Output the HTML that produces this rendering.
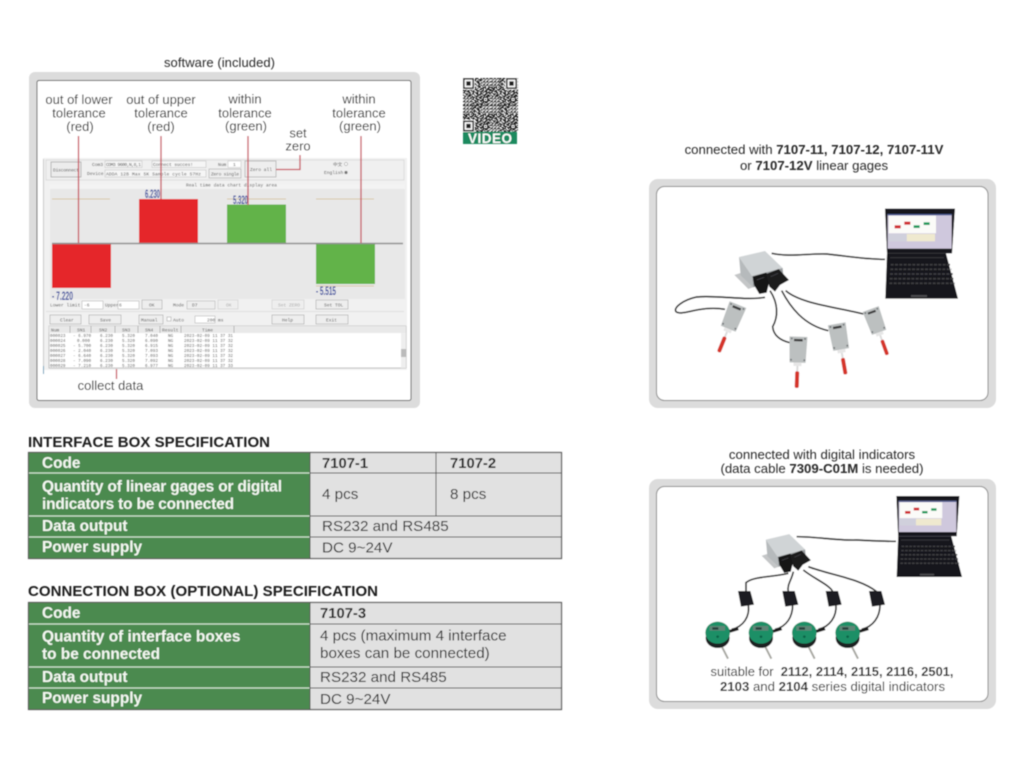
<!DOCTYPE html>
<html><head><meta charset="utf-8"><title>Interface box specification</title>
<style>
html,body{margin:0;padding:0;background:#fff;width:1024px;height:768px;overflow:hidden}
svg{display:block}
text{font-family:"Liberation Sans",sans-serif;fill:#2a2a2a}
.m{text-anchor:middle;font-size:13px}
.h{font-weight:700;font-size:15px;fill:#1d1d1d}
.w{font-weight:700;font-size:15.4px;fill:#f4f8f2}
.t{font-size:15.2px;fill:#2b2b2b}
.tb{font-size:14.8px;font-weight:700;fill:#222}
.u{font-family:"Liberation Mono",monospace;font-size:4.6px;fill:#555}
.r{font-family:"Liberation Mono",monospace;font-size:4.3px;fill:#555}
.v{font-weight:700;font-size:12px;fill:#3d4fa0}
.c{font-size:13.2px;text-anchor:middle;fill:#2a2a2a}
.b{font-weight:700}
</style></head><body>
<svg width="1024" height="768" viewBox="0 0 1024 768" xmlns="http://www.w3.org/2000/svg">
<defs>
<filter id="bl" x="-2%" y="-2%" width="104%" height="104%"><feGaussianBlur stdDeviation="0.4"/></filter>
<pattern id="qp" width="3" height="3" patternUnits="userSpaceOnUse"><rect width="2" height="1" fill="#1c1c1c"/><rect x="1" y="2" width="1" height="1" fill="#1c1c1c"/><rect x="2" y="1" width="1" height="1" fill="#1c1c1c"/></pattern>
<g id="qr">
<path fill="none" stroke="#1c1c1c" stroke-width="1" d="M8 .5h2M11 .5h3M16 .5h1M8 1.500h1M10 1.500h2M14 1.500h3M9 2.500h3M13 2.500h1M15 2.500h2M8 3.500h2M12 3.500h3M8 4.500h1M10 4.500h1M13 4.500h2M16 4.500h1M9 5.500h3M14 5.500h2M8 6.500h1M10 6.500h1M12 6.500h1M14 6.500h1M16 6.500h1M8 7.500h2M13 7.500h3
M0 8.500h2M3 8.500h3M7 8.500h1M9 8.500h3M14 8.500h2M18 8.500h3M23 8.500h2M1 9.500h3M5 9.500h1M8 9.500h2M11 9.500h1M13 9.500h1M16 9.500h3M20 9.500h1M22 9.500h2M0 10.500h1M2 10.500h2M6 10.500h3M10 10.500h3M15 10.500h2M18 10.500h1M21 10.500h4M0 11.500h3M4 11.500h2M7 11.500h1M9 11.500h1M12 11.500h3M17 11.500h2M20 11.500h2M24 11.500h1M1 12.500h1M3 12.500h3M8 12.500h3M13 12.500h1M15 12.500h3M19 12.500h3M23 12.500h1M0 13.500h2M5 13.500h2M9 13.500h1M11 13.500h3M16 13.500h1M18 13.500h1M21 13.500h4M2 14.500h3M6 14.500h1M8 14.500h2M12 14.500h2M15 14.500h3M20 14.500h2M24 14.500h1M0 15.500h1M3 15.500h1M5 15.500h3M10 15.500h1M13 15.500h3M18 15.500h3M22 15.500h2M1 16.500h2M4 16.500h3M8 16.500h1M11 16.500h3M16 16.500h2M19 16.500h1M21 16.500h4
M8 17.500h3M12 17.500h1M14 17.500h3M18 17.500h5M9 18.500h1M11 18.500h2M15 18.500h2M18 18.500h1M22 18.500h1M24 18.500h1M8 19.500h2M12 19.500h3M17 19.500h2M20 19.500h1M22 19.500h2M10 20.500h2M13 20.500h1M15 20.500h3M18 20.500h1M22 20.500h3M8 21.500h1M11 21.500h3M16 21.500h1M18 21.500h5M9 22.500h3M14 22.500h1M17 22.500h2M20 22.500h2M24 22.500h1M8 23.500h2M12 23.500h2M15 23.500h3M19 23.500h1M22 23.500h2M10 24.500h1M12 24.500h3M16 24.500h2M20 24.500h3"/>
<rect width="8" height="8" fill="url(#qp)"/><rect x="17" width="8" height="8" fill="url(#qp)"/><rect y="17" width="8" height="8" fill="url(#qp)"/>
</g>
<g id="finder"><rect x="-.5" y="-.5" width="12" height="12" fill="#fff"/><rect x=".8" y=".8" width="9.400" height="9.400" fill="none" stroke="#1c1c1c" stroke-width="1.600"/><rect x="3.300" y="3.300" width="4.400" height="4.400" fill="#1c1c1c"/></g>
<g id="laptop">
<path d="M735 116H945L936 250H741Z" fill="#15151a"/>
<rect x="743" y="132" width="192" height="104" fill="#cfc8dd"/>
<rect x="743" y="132" width="192" height="4" fill="#4c5a90"/>
<rect x="746" y="137" width="142" height="53" fill="#fbfbf8"/>
<rect x="800" y="192" width="85" height="22" fill="#efe9cf"/>
<rect x="746" y="192" width="54" height="22" fill="#d0d0dc"/>
<rect x="764" y="166" width="18" height="9" fill="#cf2b2f"/><rect x="793" y="155" width="18" height="9" fill="#cf2b2f"/>
<rect x="821" y="166" width="18" height="8" fill="#1d9a5b"/><rect x="851" y="157" width="18" height="8" fill="#1d9a5b"/>
<path d="M741 250H918L954 386H736Z" fill="#17171a"/>
<path d="M750 263H912" stroke="#38383c" stroke-width="3"/>
<g fill="none" stroke="#3c3c41" stroke-width="5" stroke-dasharray="9 4">
<path d="M752 284H930M751 298H934M750 312H938M749 326H941M748 340H944"/>
</g>
<rect x="813" y="375" width="48" height="6" fill="#4a4a4e"/>
</g>
<g id="box">
<path d="M283 315L301 309L345 350L325 357Z" fill="#c4c6c7"/>
<path d="M297 261L375 243L428 294L336 318Z" fill="#d0d4d6"/>
<path d="M297 261L336 318L340 352L302 316Z" fill="#b6babc"/>
<path d="M336 318L428 294L430 315L340 352Z" fill="#9a9ea0"/>
<path d="M338 320L378 308L392 320L380 368L358 372L342 345Z" fill="#141416"/>
<path d="M378 312L416 297L447 330L420 345L405 365L388 350Z" fill="#1a1a1d"/>
<path d="M350 330L372 322M392 320L414 310" stroke="#3c3c40" stroke-width="3"/>
</g>
<g id="sens">
<path d="M-27 -40H27L24 38H-24Z" fill="#bcc0c0"/>
<rect x="-13" y="-33" width="26" height="7" fill="#3c3c3e"/>
<rect x="-12" y="38" width="24" height="10" fill="#e6e6e6"/>
<rect x="-3" y="48" width="6" height="18" fill="#dcdcdc"/>
<rect x="-6" y="64" width="12" height="50" rx="5" fill="#d5352c"/>
<g fill="#75797b"><circle cx="-20" cy="-34" r="3"/><circle cx="20" cy="-34" r="3"/><circle cx="-20" cy="30" r="3"/><circle cx="20" cy="30" r="3"/></g>
</g>
<g id="ind">
<path d="M9 35L31 78" stroke="#a8a8a2" stroke-width="6"/>
<ellipse cx="0" cy="16" rx="36" ry="30" fill="#1a2421"/>
<ellipse cx="0" cy="0" rx="37" ry="33" fill="#1d8f66"/>
<rect x="-24" y="-20" width="46" height="14" fill="#5f8677"/>
<rect x="-16" y="-16" width="18" height="7" fill="#26403a"/>
<circle cx="0" cy="12" r="4" fill="#0f6347"/>
<path d="M36 -4L62 -12" stroke="#1c1c1c" stroke-width="9"/>
</g>
<g id="dongle"><path d="M-23 -22H14L25 19L-14 25Z" fill="#1d1d20"/></g>
</defs>
<g filter="url(#bl)">
<text class="m" x="219.500" y="67" textLength="111">software (included)</text>

<!-- software panel -->
<rect x="29" y="72" width="391" height="336" rx="6" fill="#dcdcdc"/>
<rect x="37" y="80.500" width="374" height="320" rx="2" fill="#fff" stroke="#5c5c5c"/>
<rect x="43" y="158" width="364" height="212" fill="#f1f1f1"/>
<rect x="43" y="159" width="1" height="211" fill="#c8c8c8"/>
<rect x="46" y="160" width="358" height="20" fill="#f0f0f0" stroke="#d4d4d4" stroke-width=".7"/>
<rect x="51" y="162" width="30" height="15" fill="#ececec" stroke="#a8a8a8" stroke-width=".8"/>
<text class="u" x="53" y="171.500" textLength="26">Disconnect</text>
<text class="u" x="92" y="166">Com3</text><text class="u" x="87" y="175">Device</text>
<rect x="105" y="161" width="37" height="6.500" fill="#f6f6f6" stroke="#bbb" stroke-width=".5"/>
<rect x="152" y="161" width="54" height="6.500" fill="#f6f6f6" stroke="#bbb" stroke-width=".5"/>
<rect x="105" y="170" width="101" height="7" fill="#f6f6f6" stroke="#bbb" stroke-width=".5"/>
<text class="u" x="106" y="166" textLength="35">COM3 9600,N,8,1</text><text class="u" x="153" y="166" textLength="40">Connect succes!</text>
<text class="u" x="106" y="175.500" textLength="95">ADDA 12B  Max 5K  Sample cycle 57Hz</text>
<text class="u" x="218" y="166">Num</text><rect x="228" y="161" width="13" height="6.500" fill="#fff" stroke="#bbb" stroke-width=".5"/><text class="u" x="233" y="166">1</text>
<rect x="209" y="169" width="32" height="9" fill="#eee" stroke="#aaa" stroke-width=".6"/><text class="u" x="211" y="175.500" textLength="28">Zero single</text>
<rect x="245" y="161" width="31" height="16" fill="#eee" stroke="#aaa" stroke-width=".7"/><text class="u" x="250" y="171">Zero all</text>
<text class="u" x="333" y="166" style='font-family:"Liberation Mono","Noto Sans CJK SC",monospace'>中文</text><circle cx="346" cy="164" r="1.600" fill="#fff" stroke="#888" stroke-width=".5"/>
<text class="u" x="324" y="174">English</text><circle cx="346" cy="172.500" r="1.600" fill="#777"/>

<rect x="49" y="184" width="356" height="61" fill="#f3f3f3"/>
<text class="u" x="186" y="186.500">Real time data chart display area</text>
<rect x="50" y="189" width="355" height="110" fill="#e8e8e8"/>
<path d="M52 199H110M316 199H374M227 199H286M316 286H374" stroke="#d8c8a6" stroke-width="1"/>
<rect x="139" y="199" width="59" height="45" fill="#e52529"/>
<rect x="227" y="204.500" width="59" height="39.500" fill="#62b34a"/>
<rect x="52" y="244" width="59" height="44" fill="#e52529"/>
<rect x="316" y="244" width="59" height="40" fill="#62b34a"/>
<path d="M52 243.500H403" stroke="#8f8f8f" stroke-width="1.400"/>
<text class="v" x="145" y="198" textLength="15" lengthAdjust="spacingAndGlyphs">6.230</text>
<text class="v" x="233" y="204" textLength="15" lengthAdjust="spacingAndGlyphs">5.320</text>
<text class="v" x="52" y="300" textLength="21" lengthAdjust="spacingAndGlyphs">- 7.220</text>
<text class="v" x="316" y="295" textLength="20" lengthAdjust="spacingAndGlyphs">- 5.515</text>

<text class="u" x="50" y="306.500">Lower limit</text>
<rect x="82" y="301" width="21" height="8" fill="#fff" stroke="#aaa" stroke-width=".5"/><text class="u" x="84" y="306.500">-6</text>
<text class="u" x="105" y="306.500">Upper</text>
<rect x="118" y="301" width="21" height="8" fill="#fff" stroke="#aaa" stroke-width=".5"/><text class="u" x="119" y="306.500">6</text>
<rect x="142" y="300" width="20" height="9" fill="#eee" stroke="#aaa" stroke-width=".6"/><text class="u" x="149" y="306.500">OK</text>
<text class="u" x="173" y="306.500">Mode</text>
<rect x="187" y="301" width="28" height="8" fill="#eee" stroke="#aaa" stroke-width=".5"/><text class="u" x="192" y="306.500">D7</text>
<rect x="218" y="300" width="20" height="9" fill="#eee" stroke="#ccc" stroke-width=".6"/><text class="u" x="226" y="306.500" style="fill:#aaa">OK</text>
<rect x="272" y="300" width="32" height="9" fill="#eee" stroke="#ccc" stroke-width=".6"/><text class="u" x="278" y="306.500" style="fill:#aaa">Set ZERO</text>
<rect x="316" y="300" width="32" height="9" fill="#eee" stroke="#aaa" stroke-width=".6"/><text class="u" x="324" y="306.500">Set TOL</text>
<path d="M46 311.500H404" stroke="#d8d8d8" stroke-width=".7"/>
<rect x="50" y="315" width="31" height="9" fill="#eee" stroke="#aaa" stroke-width=".6"/><text class="u" x="60" y="321.500">Clear</text>
<rect x="89" y="315" width="32" height="9" fill="#eee" stroke="#aaa" stroke-width=".6"/><text class="u" x="100" y="321.500">Save</text>
<rect x="139" y="315" width="24" height="9" fill="#eee" stroke="#aaa" stroke-width=".6"/><text class="u" x="141" y="321.500">Manual</text>
<rect x="167" y="317" width="4" height="4" fill="#fff" stroke="#999" stroke-width=".5"/><text class="u" x="173" y="321.500">Auto</text>
<rect x="195" y="316" width="20" height="7" fill="#fff" stroke="#aaa" stroke-width=".5"/><text class="u" x="207" y="321.500">200 ms</text>
<rect x="272" y="315" width="32" height="9" fill="#eee" stroke="#aaa" stroke-width=".6"/><text class="u" x="282" y="321.500">Help</text>
<rect x="316" y="315" width="32" height="9" fill="#eee" stroke="#aaa" stroke-width=".6"/><text class="u" x="326" y="321.500">Exit</text>

<rect x="49" y="326" width="357" height="42" fill="#fff" stroke="#9a9a9a" stroke-width=".6"/>
<rect x="49" y="326" width="357" height="7" fill="#e9e9e9"/>
<path d="M70 326V333M91 326V333M115 326V333M138 326V333M160 326V333M181 326V333M234 326V333" stroke="#999" stroke-width=".6"/>
<text class="u" x="51" y="331.500">Num</text><text class="u" x="77" y="331.500">SN1</text><text class="u" x="99" y="331.500">SN2</text><text class="u" x="122" y="331.500">SN3</text><text class="u" x="145" y="331.500">SN4</text><text class="u" x="162" y="331.500">Result</text><text class="u" x="202" y="331.500">Time</text>
<text class="r" y="337"><tspan x="50">000023</tspan><tspan x="73">- 6.970</tspan><tspan x="100">6.230</tspan><tspan x="122">5.320</tspan><tspan x="145">7.040</tspan><tspan x="168">NG</tspan><tspan x="184">2023-02-09 11 37 31</tspan></text>
<text class="r" y="342"><tspan x="50">000024</tspan><tspan x="77">0.000</tspan><tspan x="100">6.230</tspan><tspan x="122">5.320</tspan><tspan x="145">6.090</tspan><tspan x="168">NG</tspan><tspan x="184">2023-02-09 11 37 32</tspan></text>
<text class="r" y="347"><tspan x="50">000025</tspan><tspan x="73">- 5.700</tspan><tspan x="100">6.230</tspan><tspan x="122">5.320</tspan><tspan x="145">6.915</tspan><tspan x="168">NG</tspan><tspan x="184">2023-02-09 11 37 32</tspan></text>
<text class="r" y="352"><tspan x="50">000026</tspan><tspan x="73">- 2.040</tspan><tspan x="100">6.230</tspan><tspan x="122">5.320</tspan><tspan x="145">7.093</tspan><tspan x="168">NG</tspan><tspan x="184">2023-02-09 11 37 32</tspan></text>
<text class="r" y="357"><tspan x="50">000027</tspan><tspan x="73">- 6.640</tspan><tspan x="100">6.230</tspan><tspan x="122">5.320</tspan><tspan x="145">7.093</tspan><tspan x="168">NG</tspan><tspan x="184">2023-02-09 11 37 32</tspan></text>
<text class="r" y="362"><tspan x="50">000028</tspan><tspan x="73">- 7.090</tspan><tspan x="100">6.230</tspan><tspan x="122">5.320</tspan><tspan x="145">7.092</tspan><tspan x="168">NG</tspan><tspan x="184">2023-02-09 11 37 32</tspan></text>
<text class="r" y="367"><tspan x="50">000029</tspan><tspan x="73">- 7.210</tspan><tspan x="100">6.230</tspan><tspan x="122">5.320</tspan><tspan x="145">6.977</tspan><tspan x="168">NG</tspan><tspan x="184">2023-02-09 11 37 33</tspan></text>
<rect x="401" y="333" width="5" height="35" fill="#eee"/><rect x="401" y="349" width="5" height="8" fill="#bbb"/>
<rect x="43" y="366" width="1" height="8" fill="#5a9ab8"/>

<!-- connectors -->
<g stroke="#c8525e" stroke-width="1.300" fill="none">
<path d="M78.500 136V243M161 136V199M248 136V205M361 136V243M116.500 369V379"/>
<path d="M276 169.500H300V155"/>
</g>
<text class="m" x="79" y="104">out of lower</text><text class="m" x="79" y="117.500">tolerance</text><text class="m" x="80" y="131">(red)</text>
<text class="m" x="161" y="104">out of upper</text><text class="m" x="161" y="117.500">tolerance</text><text class="m" x="161" y="131">(red)</text>
<text class="m" x="245" y="103.500">within</text><text class="m" x="245" y="117.500">tolerance</text><text class="m" x="246" y="130.500">(green)</text>
<text class="m" x="359" y="103.500">within</text><text class="m" x="359" y="117.500">tolerance</text><text class="m" x="360" y="130.500">(green)</text>
<text class="m" x="298" y="137.500">set</text><text class="m" x="298" y="150.500">zero</text>
<text class="m" x="110.500" y="390">collect data</text>

<!-- QR -->
<use href="#qr" transform="translate(463,78) scale(1.100)"/>
<use href="#qr" transform="translate(490.500,78) scale(1.100)"/>
<use href="#qr" transform="translate(463,105) scale(1.100)"/>
<use href="#qr" transform="translate(490.500,105) scale(1.100)"/>
<use href="#finder" transform="translate(463,78)"/>
<use href="#finder" transform="translate(506,78)"/>
<use href="#finder" transform="translate(463,120.500)"/>
<rect x="463" y="132" width="54" height="12" fill="#1f8a5f"/>
<text x="490" y="142.800" text-anchor="middle" style="font-size:13.500px;font-weight:700;fill:#fff" textLength="44">VIDEO</text>

<!-- tables -->
<text class="h" x="28" y="447" textLength="242">INTERFACE BOX SPECIFICATION</text>
<rect x="28.500" y="452.500" width="533" height="106" fill="#e1e1e1" stroke="#5a5a5a" stroke-width="1.200"/>
<rect x="29" y="453" width="281" height="105" fill="#4b8a4f"/>
<path d="M29 473H310M29 516H310M29 537H310" stroke="#cfe3cf" stroke-width="1.300"/>
<path d="M310 473H561.500M310 516H561.500M310 537H561.500M310 452.500V558.500M436 452.500V516" stroke="#555" stroke-width="1"/>
<text class="w" x="42" y="468">Code</text>
<text class="w" x="42" y="491.500" textLength="240">Quantity of linear gages or digital</text>
<text class="w" x="42" y="509" textLength="192">indicators to be connected</text>
<text class="w" x="42" y="531">Data output</text><text class="w" x="42" y="552">Power supply</text>
<text class="tb" x="322" y="468">7107-1</text><text class="tb" x="450" y="468">7107-2</text>
<text class="t" x="322" y="499">4 pcs</text><text class="t" x="450" y="499">8 pcs</text>
<text class="t" x="322" y="531">RS232 and RS485</text><text class="t" x="322" y="552.500">DC 9~24V</text>

<text class="h" x="28" y="596" textLength="350">CONNECTION BOX (OPTIONAL) SPECIFICATION</text>
<rect x="28.500" y="602.500" width="533" height="107" fill="#e1e1e1" stroke="#5a5a5a" stroke-width="1.200"/>
<rect x="29" y="603" width="281" height="106" fill="#4b8a4f"/>
<path d="M29 624H310M29 667H310M29 688H310" stroke="#cfe3cf" stroke-width="1.300"/>
<path d="M310 624H561.500M310 667H561.500M310 688H561.500M310 602.500V709.500" stroke="#555" stroke-width="1"/>
<text class="w" x="42" y="618">Code</text>
<text class="w" x="42" y="641.500">Quantity of interface boxes</text>
<text class="w" x="42" y="659">to be connected</text>
<text class="w" x="42" y="682">Data output</text><text class="w" x="42" y="703">Power supply</text>
<text class="tb" x="320" y="618">7107-3</text>
<text class="t" x="320" y="640.500">4 pcs (maximum 4 interface</text>
<text class="t" x="320" y="658">boxes can be connected)</text>
<text class="t" x="320" y="682">RS232 and RS485</text><text class="t" x="320" y="704">DC 9~24V</text>

<!-- right captions -->
<text class="c" x="814" y="154">connected with <tspan class="b">7107-11, 7107-12, 7107-11V</tspan></text>
<text class="c" x="814" y="170">or <tspan class="b">7107-12V</tspan> linear gages</text>
<text class="c" x="822" y="459">connected with digital indicators</text>
<text class="c" x="822" y="473">(data cable <tspan class="b">7309-C01M</tspan> is needed)</text>

<!-- panel gages -->
<rect x="649" y="179" width="347" height="229" rx="9" fill="#dcdcdc"/>
<rect x="656.500" y="186.500" width="331.500" height="214" rx="8" fill="#fff" stroke="#8a8a8a"/>
<g transform="translate(640,170) scale(.33333)">
<g fill="none" stroke="#333" stroke-width="5">
<path d="M395 250C450 262 500 250 560 252C620 258 670 268 735 268"/>
<path d="M375 382C320 392 230 375 170 381C130 390 100 412 108 425C125 440 180 405 255 418"/>
<path d="M390 362C415 400 415 440 398 470C400 495 420 512 450 518"/>
<path d="M425 362C450 410 490 465 565 482"/>
<path d="M437 362C480 400 580 410 670 432"/>
</g>
<use href="#laptop"/><use href="#box"/>
<use href="#sens" transform="translate(279,441) rotate(22)"/>
<use href="#sens" transform="translate(474,540) rotate(2)"/>
<use href="#sens" transform="translate(597,501) rotate(-10)"/>
<use href="#sens" transform="translate(705,453) rotate(-20) scale(.95)"/>
</g>

<!-- panel indicators -->
<rect x="649" y="479" width="347" height="230" rx="9" fill="#dcdcdc"/>
<rect x="656.500" y="486.500" width="331.500" height="215" rx="8" fill="#fff" stroke="#8a8a8a"/>
<g transform="translate(640,470) scale(.33333)">
<g fill="none" stroke="#333" stroke-width="5">
<path d="M470 200C530 200 590 212 650 210C690 212 730 214 768 214"/>
<path d="M445 310C400 322 340 318 318 338V365"/>
<path d="M460 305C455 330 440 345 445 365"/>
<path d="M490 300C520 325 570 345 578 365"/>
<path d="M505 290C570 315 660 325 710 365"/>
<path d="M325 405C330 440 310 470 275 478"/>
<path d="M458 405C458 440 440 470 405 478"/>
<path d="M588 405C590 440 570 470 535 478"/>
<path d="M720 405C720 440 700 470 665 478"/>
</g>
<use href="#laptop" transform="translate(770,78) scale(.9) translate(-736,-116)"/>
<use href="#box" transform="translate(365,197) scale(.9) translate(-283,-248)"/>
<use href="#dongle" transform="translate(317,385)"/><use href="#dongle" transform="translate(450,385)"/><use href="#dongle" transform="translate(580,385)"/><use href="#dongle" transform="translate(710,385)"/>
<use href="#ind" transform="translate(233,488)"/><use href="#ind" transform="translate(363,488)"/><use href="#ind" transform="translate(493,488)"/><use href="#ind" transform="translate(623,488)"/>
</g>
<text class="c" x="832" y="676" style="font-size:12.900px">suitable for&#160; <tspan class="b">2112, 2114, 2115, 2116, 2501,</tspan></text>
<text class="c" x="832.500" y="691"><tspan class="b">2103</tspan> and <tspan class="b">2104</tspan> series digital indicators</text>
</g>
</svg>
</body></html>
